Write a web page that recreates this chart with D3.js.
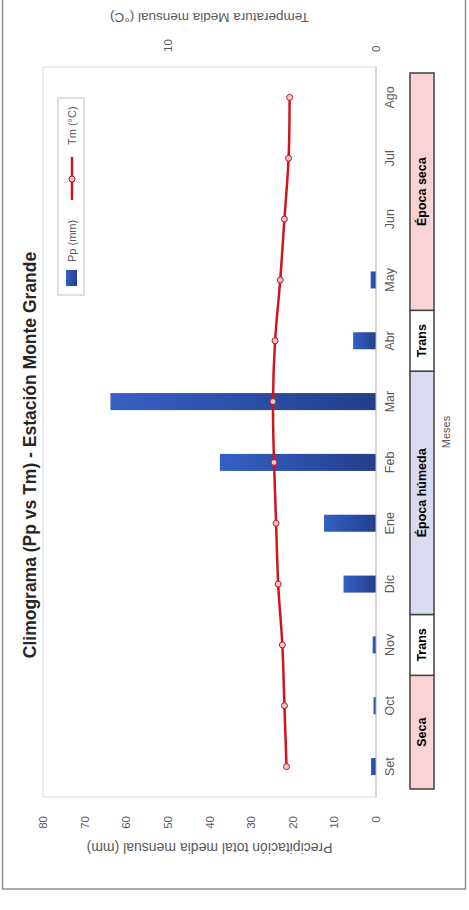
<!DOCTYPE html>
<html>
<head>
<meta charset="utf-8">
<script src="https://cdn.jsdelivr.net/npm/d3@7"></script>
<style>
  body { margin: 0; background: #fff; }
  text { font-family: "Liberation Sans", Arial, sans-serif; }
</style>
</head>
<body>
<svg id="chart" width="469" height="910"></svg>
<script>
// data
const months = ["Set", "Oct", "Nov", "Dic", "Ene", "Feb", "Mar", "Abr", "May", "Jun", "Jul", "Ago"];
const precip = [1.2, 0.6, 0.8, 7.8, 12.5, 37.5, 63.8, 5.5, 1.3, 0, 0, 0];
const temp = [4.3, 4.4, 4.5, 4.7, 4.8, 4.9, 4.95, 4.85, 4.6, 4.4, 4.2, 4.15];
const ppTicks = [0, 10, 20, 30, 40, 50, 60, 70, 80];
const tmTicks = [0, 10];
const seasonLabels = ["Seca", "Trans", "Época húmeda", "Trans", "Época seca"];
const seasonFrom = ["Set", "Nov", "Dic", "Abr", "May"];
const seasonTo = ["Oct", "Nov", "Mar", "Abr", "Ago"];

const svg = d3.select("#chart");
const W = 910, H = 469; // chart drawn landscape, then turned a quarter left

// outer frame
svg.append("rect")
    .attr("x", 2.5).attr("y", -10)
    .attr("width", 463).attr("height", 899)
    .attr("fill", "#fff")
    .attr("stroke", "#8c8c8c")
    .attr("stroke-width", 1.5);

const g = svg.append("g")
    .attr("transform", `translate(0,${W}) rotate(-90)`);

const margin = { left: 113, right: 67, top: 43, bottom: 93 };
const plotRight = W - margin.right;
const plotBottom = H - margin.bottom;

const x = d3.scaleBand()
    .domain(months)
    .range([margin.left, plotRight])
    .paddingInner(0.72)
    .paddingOuter(0.36);

const yP = d3.scaleLinear().domain([0, 80]).range([plotBottom, margin.top]);
const yT = d3.scaleLinear().domain([0, 16]).range([plotBottom, margin.top]);

const defs = svg.append("defs");
const grad = defs.append("linearGradient")
    .attr("id", "barGrad")
    .attr("x1", 0).attr("y1", 0).attr("x2", 0).attr("y2", 1);
grad.append("stop").attr("offset", "0%").attr("stop-color", "#3560c4");
grad.append("stop").attr("offset", "100%").attr("stop-color", "#233f8c");

// plot area
g.append("rect")
    .attr("x", margin.left).attr("y", margin.top)
    .attr("width", plotRight - margin.left)
    .attr("height", plotBottom - margin.top)
    .attr("fill", "none")
    .attr("stroke", "#d9d9d9");

// bars
g.selectAll("rect.bar")
    .data(months)
    .enter()
    .append("rect")
    .attr("class", "bar")
    .attr("x", d => x(d))
    .attr("y", (d, i) => yP(precip[i]))
    .attr("width", x.bandwidth())
    .attr("height", (d, i) => plotBottom - yP(precip[i]))
    .attr("fill", "url(#barGrad)");

// category axis line
g.append("line")
    .attr("x1", margin.left).attr("x2", plotRight)
    .attr("y1", plotBottom).attr("y2", plotBottom)
    .attr("stroke", "#bfbfbf");

// temperature line
const line = d3.line()
    .x((d, i) => x(months[i]) + x.bandwidth() / 2)
    .y(d => yT(d))
    .curve(d3.curveCatmullRom);

g.append("path")
    .datum(temp)
    .attr("d", line)
    .attr("fill", "none")
    .attr("stroke", "#d0141e")
    .attr("stroke-width", 2.5);

g.selectAll("circle.pt")
    .data(temp)
    .enter()
    .append("circle")
    .attr("class", "pt")
    .attr("cx", (d, i) => x(months[i]) + x.bandwidth() / 2)
    .attr("cy", d => yT(d))
    .attr("r", 3)
    .attr("fill", "#f6c9cc")
    .attr("stroke", "#c0101a")
    .attr("stroke-width", 1);

// month labels
g.selectAll("text.month")
    .data(months)
    .enter()
    .append("text")
    .attr("class", "month")
    .attr("x", d => x(d) + x.bandwidth() / 2)
    .attr("y", plotBottom + 14)
    .attr("text-anchor", "middle")
    .attr("dominant-baseline", "central")
    .attr("fill", "#595959")
    .style("font-size", "12.5px")
    .text(d => d);

// left axis (precipitation)
g.selectAll("text.pp")
    .data(ppTicks)
    .enter()
    .append("text")
    .attr("x", margin.left - 19)
    .attr("y", d => yP(d))
    .attr("text-anchor", "end")
    .attr("dominant-baseline", "central")
    .attr("fill", "#595959")
    .style("font-size", "11.5px")
    .text(d => d);

g.append("text")
    .attr("transform", `translate(62,${(margin.top + plotBottom) / 2}) rotate(-90)`)
    .attr("text-anchor", "middle")
    .attr("dominant-baseline", "central")
    .attr("fill", "#595959")
    .style("font-size", "14px")
    .text("Precipitación total media mensual (mm)");

// right axis (temperature)
g.selectAll("text.tm")
    .data(tmTicks)
    .enter()
    .append("text")
    .attr("x", plotRight + 15)
    .attr("y", d => yT(d))
    .attr("text-anchor", "start")
    .attr("dominant-baseline", "central")
    .attr("fill", "#595959")
    .style("font-size", "11.5px")
    .text(d => d);

g.append("text")
    .attr("transform", `translate(893,${(margin.top + plotBottom) / 2}) rotate(-90)`)
    .attr("text-anchor", "middle")
    .attr("dominant-baseline", "central")
    .attr("fill", "#595959")
    .style("font-size", "13.5px")
    .text("Temperatura Media mensual (°C)");

// title
g.append("text")
    .attr("x", 455).attr("y", 30)
    .attr("text-anchor", "middle")
    .attr("dominant-baseline", "central")
    .attr("fill", "#262626")
    .style("font-size", "17.5px")
    .style("font-weight", "bold")
    .text("Climograma (Pp vs Tm) - Estación Monte Grande");

// legend
const leg = g.append("g");
leg.append("rect")
    .attr("x", 615).attr("y", 58)
    .attr("width", 197).attr("height", 26)
    .attr("fill", "#fff")
    .attr("stroke", "#bfbfbf");
leg.append("rect")
    .attr("x", 624).attr("y", 66)
    .attr("width", 16).attr("height", 11)
    .attr("fill", "url(#barGrad)");
leg.append("text")
    .attr("x", 648).attr("y", 72)
    .attr("dominant-baseline", "central")
    .attr("fill", "#595959")
    .style("font-size", "11px")
    .text("Pp (mm)");
leg.append("line")
    .attr("x1", 710).attr("x2", 753)
    .attr("y1", 72).attr("y2", 72)
    .attr("stroke", "#d0141e")
    .attr("stroke-width", 2.5);
leg.append("circle")
    .attr("cx", 731).attr("cy", 72).attr("r", 3)
    .attr("fill", "#f6c9cc")
    .attr("stroke", "#c0101a");
leg.append("text")
    .attr("x", 765).attr("y", 72)
    .attr("dominant-baseline", "central")
    .attr("fill", "#595959")
    .style("font-size", "11px")
    .text("Tm (°C)");

// season table under the month axis
const step = x.step();
const edge = m => x(m) - x.paddingInner() * step / 2;
const seasonFill = label => label === "Trans" ? "#ffffff"
    : label === "Época húmeda" ? "#d9dcf0" : "#fad4d4";

const table = g.append("g");
seasonLabels.forEach((label, i) => {
    let x0 = edge(seasonFrom[i]);
    let x1 = edge(seasonTo[i]) + step;
    if (i === 0) x0 += 8;
    if (i === seasonLabels.length - 1) x1 -= 6;
    table.append("rect")
        .attr("x", x0).attr("y", 410)
        .attr("width", x1 - x0).attr("height", 24)
        .attr("fill", seasonFill(label))
        .attr("stroke", "#404040")
        .attr("stroke-width", 1.5);
    table.append("text")
        .attr("x", (x0 + x1) / 2).attr("y", 422)
        .attr("text-anchor", "middle")
        .attr("dominant-baseline", "central")
        .attr("fill", "#000")
        .style("font-size", "12.5px")
        .style("font-weight", "bold")
        .text(label);
});

g.append("text")
    .attr("x", (margin.left + plotRight) / 2).attr("y", 446)
    .attr("text-anchor", "middle")
    .attr("dominant-baseline", "central")
    .attr("fill", "#595959")
    .style("font-size", "11px")
    .text("Meses");
</script>
</body>
</html>
